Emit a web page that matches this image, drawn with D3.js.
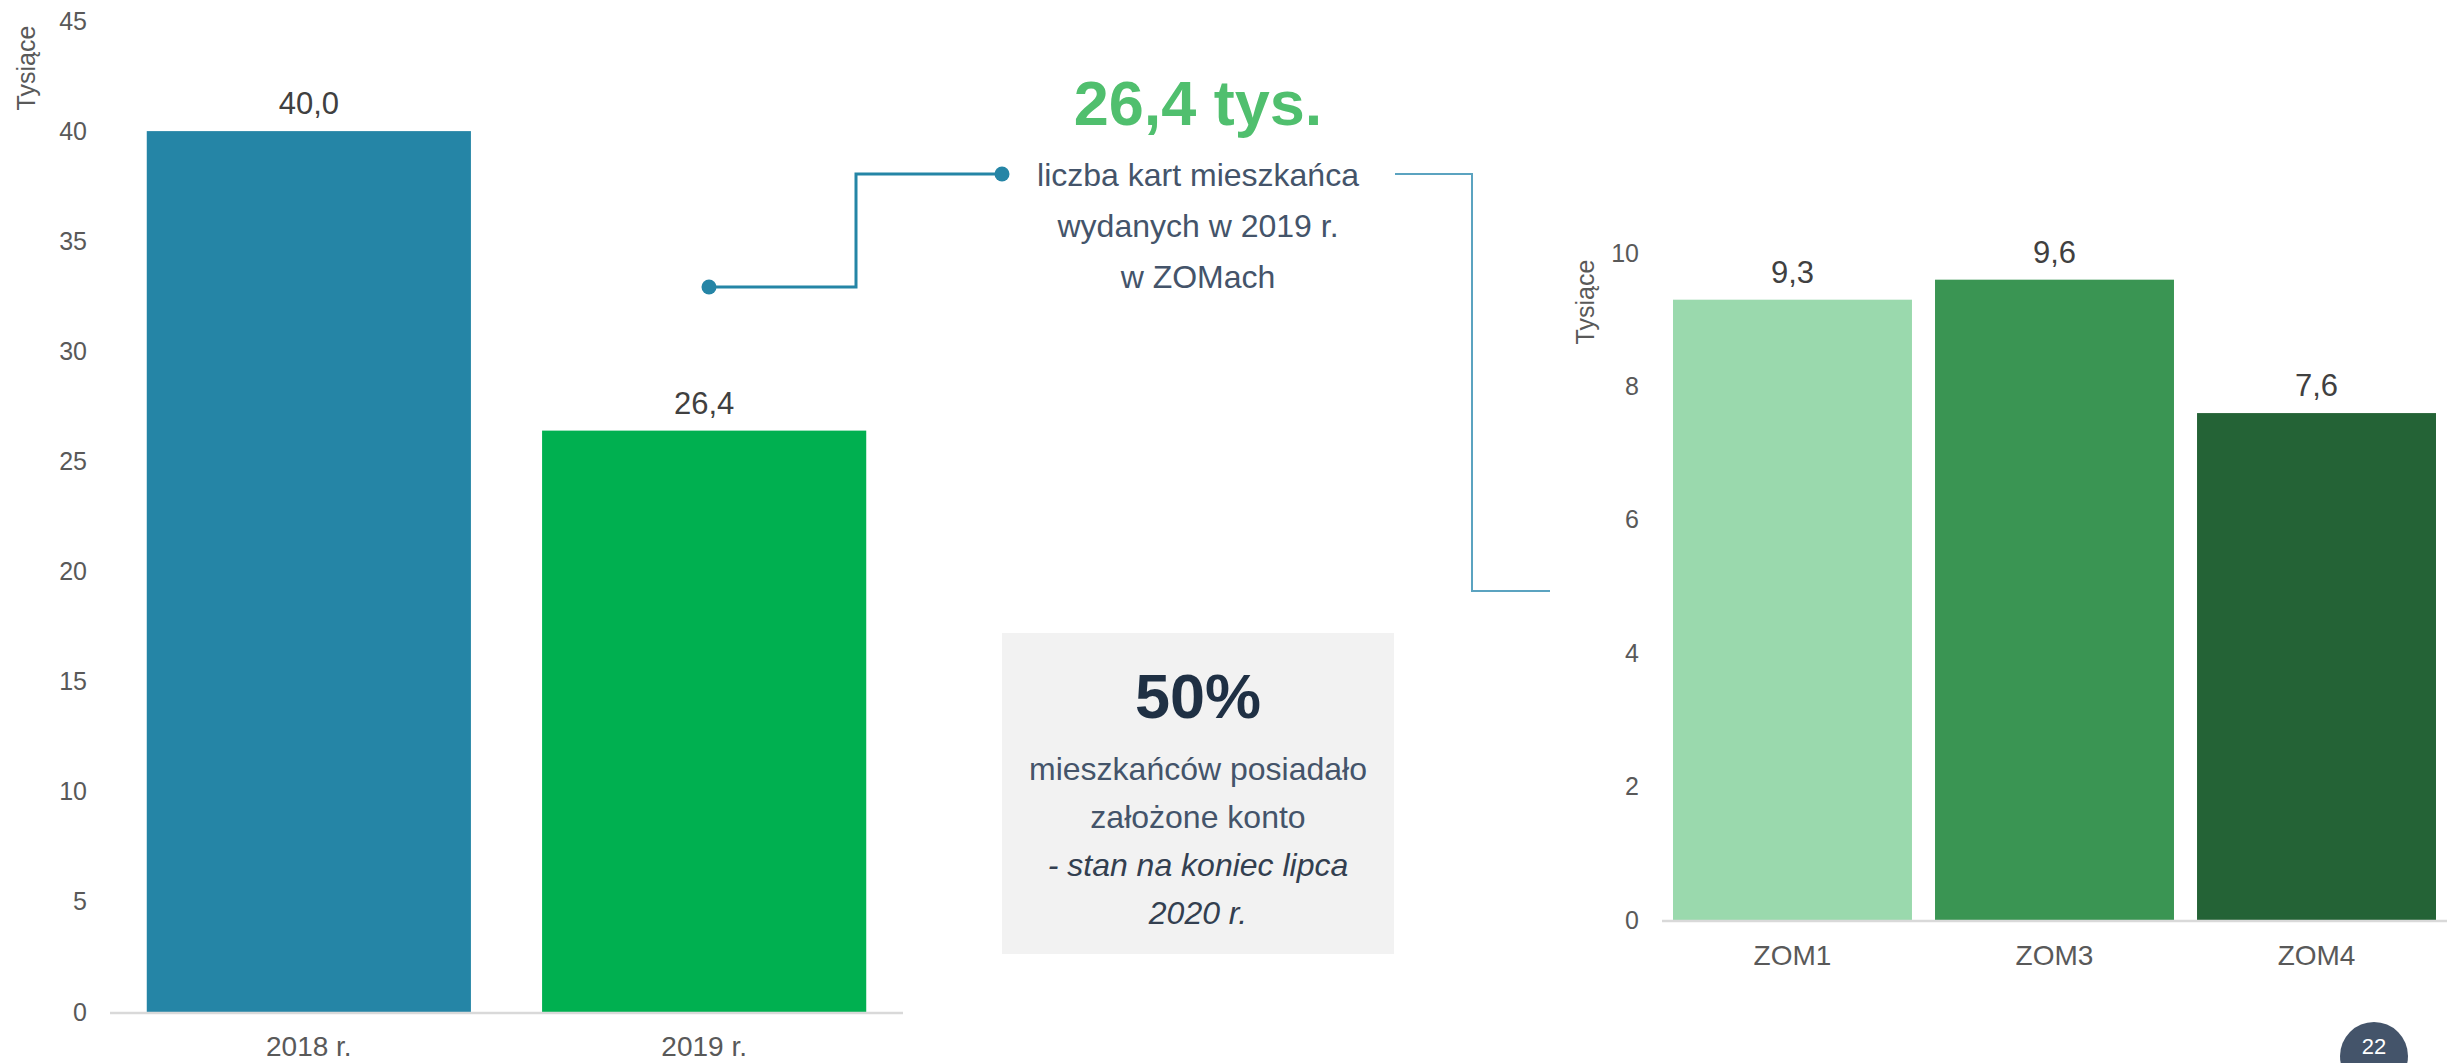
<!DOCTYPE html>
<html>
<head>
<meta charset="utf-8">
<script src="https://cdn.jsdelivr.net/npm/d3@7"></script>
<style>
  html, body { margin: 0; padding: 0; background: #fff; overflow: hidden; }
  svg { display: block; font-family: "Liberation Sans", Arial, sans-serif; }
</style>
</head>
<body>
<svg id="chart" width="2453" height="1063"></svg>
<script>
// left chart: cards issued per year (thousands)
const yearLabels = ["2018 r.", "2019 r."];
const yearValues = [40.0, 26.4];
const yearColors = ["#2585a6", "#00b050"];
const yearTicks = [0, 5, 10, 15, 20, 25, 30, 35, 40, 45];

// right chart: 2019 cards by ZOM (thousands)
const zomLabels = ["ZOM1", "ZOM3", "ZOM4"];
const zomValues = [9.3, 9.6, 7.6];
const zomColors = ["#9ad9ad", "#3a9553", "#246336"];
const zomTicks = [0, 2, 4, 6, 8, 10];

const fmt = (v) => v.toFixed(1).replace(".", ",");

const svg = d3.select("#chart");

function barChart(opt) {
    const x = d3.scaleBand()
        .domain(opt.labels)
        .range(opt.xRange)
        .paddingInner(opt.padIn)
        .paddingOuter(opt.padOut);
    const y = d3.scaleLinear().domain(opt.domain).range(opt.yRange);

    const g = svg.append("g");

    // tick labels only, no axis line
    const yAxis = d3.axisLeft(y).tickValues(opt.ticks).tickSize(0).tickPadding(0);
    g.append("g")
        .attr("transform", `translate(${opt.tickX},0)`)
        .call(yAxis)
        .call((s) => s.select(".domain").remove())
        .selectAll("text")
        .attr("font-size", 25)
        .attr("font-family", "Liberation Sans, Arial, sans-serif")
        .attr("fill", "#595959");

    g.append("text")
        .attr("transform", `translate(${opt.titleX},${opt.titleY}) rotate(-90)`)
        .attr("text-anchor", "middle")
        .attr("dominant-baseline", "middle")
        .attr("font-size", 25)
        .attr("fill", "#595959")
        .text("Tysiące");

    g.selectAll("rect.bar")
        .data(opt.values)
        .enter()
        .append("rect")
        .attr("class", "bar")
        .attr("x", (d, i) => x(opt.labels[i]))
        .attr("width", x.bandwidth())
        .attr("y", (d) => y(d))
        .attr("height", (d) => y(0) - y(d))
        .attr("fill", (d, i) => opt.colors[i]);

    // baseline
    g.append("line")
        .attr("x1", opt.xRange[0])
        .attr("x2", opt.xRange[1])
        .attr("y1", y(0) + 1)
        .attr("y2", y(0) + 1)
        .attr("stroke", "#d9d9d9")
        .attr("stroke-width", 2.5);

    g.selectAll("text.val")
        .data(opt.values)
        .enter()
        .append("text")
        .attr("class", "val")
        .attr("x", (d, i) => x(opt.labels[i]) + x.bandwidth() / 2)
        .attr("y", (d) => y(d) - 17)
        .attr("text-anchor", "middle")
        .attr("font-size", 31)
        .attr("fill", "#404040")
        .text(fmt);

    g.selectAll("text.cat")
        .data(opt.labels)
        .enter()
        .append("text")
        .attr("class", "cat")
        .attr("x", (d) => x(d) + x.bandwidth() / 2)
        .attr("y", opt.catY)
        .attr("text-anchor", "middle")
        .attr("font-size", 28)
        .attr("fill", "#595959")
        .text((d) => d);

    return { x, y };
}

const left = barChart({
    labels: yearLabels, values: yearValues, colors: yearColors, ticks: yearTicks,
    domain: [0, 45], xRange: [110, 903], yRange: [1012, 21],
    padIn: 0.18, padOut: 0.093, tickX: 87, titleX: 28, titleY: 68, catY: 1056
});

const right = barChart({
    labels: zomLabels, values: zomValues, colors: zomColors, ticks: zomTicks,
    domain: [0, 10], xRange: [1662, 2447], yRange: [920, 253],
    padIn: 0.088, padOut: 0.042, tickX: 1639, titleX: 1587, titleY: 302, catY: 965
});

// connector from 2019 bar to the headline
const link = [[709, 287], [856, 287], [856, 174], [1002, 174]];
svg.append("path")
    .attr("d", d3.line()(link))
    .attr("fill", "none")
    .attr("stroke", "#2585a6")
    .attr("stroke-width", 3);
svg.selectAll("circle.dot")
    .data([link[0], link[3]])
    .enter()
    .append("circle")
    .attr("class", "dot")
    .attr("cx", (d) => d[0])
    .attr("cy", (d) => d[1])
    .attr("r", 7.5)
    .attr("fill", "#2585a6");

// thin connector towards the ZOM chart
svg.append("path")
    .attr("d", d3.line()([[1395, 174], [1472, 174], [1472, 591], [1550, 591]]))
    .attr("fill", "none")
    .attr("stroke", "#5ba3c0")
    .attr("stroke-width", 2);

// headline
svg.append("text")
    .attr("x", 1198)
    .attr("y", 125)
    .attr("text-anchor", "middle")
    .attr("font-size", 63)
    .attr("font-weight", "bold")
    .attr("fill", "#50bf6e")
    .text("26,4 tys.");

const headLines = ["liczba kart mieszkańca", "wydanych w 2019 r.", "w ZOMach"];
svg.selectAll("text.head")
    .data(headLines)
    .enter()
    .append("text")
    .attr("class", "head")
    .attr("x", 1198)
    .attr("y", (d, i) => 186 + i * 51)
    .attr("text-anchor", "middle")
    .attr("font-size", 32)
    .attr("fill", "#44546a")
    .text((d) => d);

// grey info box
svg.append("rect")
    .attr("x", 1002).attr("y", 633)
    .attr("width", 392).attr("height", 321)
    .attr("fill", "#f2f2f2");

svg.append("text")
    .attr("x", 1198)
    .attr("y", 718)
    .attr("text-anchor", "middle")
    .attr("font-size", 63)
    .attr("font-weight", "bold")
    .attr("fill", "#1f3044")
    .text("50%");

const boxLines = [
    { t: "mieszkańców posiadało", it: false },
    { t: "założone konto", it: false },
    { t: "- stan na koniec lipca", it: true },
    { t: "2020 r.", it: true },
];
svg.selectAll("text.box")
    .data(boxLines)
    .enter()
    .append("text")
    .attr("class", "box")
    .attr("x", 1198)
    .attr("y", (d, i) => 780 + i * 48)
    .attr("text-anchor", "middle")
    .attr("font-size", 32)
    .attr("font-style", (d) => (d.it ? "italic" : "normal"))
    .attr("fill", (d) => (d.it ? "#333f50" : "#44546a"))
    .text((d) => d.t);

// page number
svg.append("circle")
    .attr("cx", 2374).attr("cy", 1056).attr("r", 34)
    .attr("fill", "#44546a");
svg.append("text")
    .attr("x", 2374).attr("y", 1054)
    .attr("text-anchor", "middle")
    .attr("font-size", 22)
    .attr("fill", "#ffffff")
    .text("22");
</script>
</body>
</html>
